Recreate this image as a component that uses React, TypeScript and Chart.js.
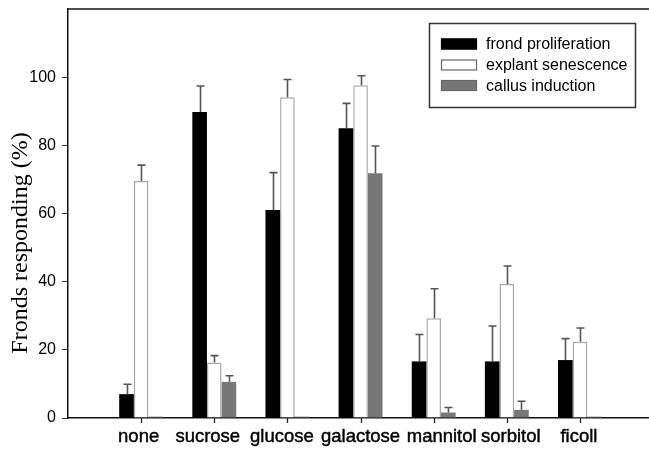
import React, { useEffect, useRef } from "react";
import { Chart, registerables } from "chart.js";

Chart.register(...registerables);

const categories = ["none", "sucrose", "glucose", "galactose", "mannitol", "sorbitol", "ficoll"];
const seriesNames = ["frond proliferation", "explant senescence", "callus induction"];
const frondValues = [7, 89.8, 61, 85, 16.6, 16.6, 17];
const frondErrors = [2.9, 7.6, 11, 7.3, 7.9, 10.4, 6.3];
const explantValues = [69.5, 16.3, 94.1, 97.6, 29.3, 39.3, 22.4];
const explantErrors = [4.7, 2, 5.2, 2.8, 8.6, 5.3, 4];
const callusValues = [0.4, 10.6, 0.4, 71.8, 1.6, 2.4, 0.4];
const callusErrors = [0, 1.8, 0, 8, 1.5, 2.5, 0];
const yTicks = [0, 20, 40, 60, 80, 100];
const yMax = 120;
// x axis: categories sit at positions 1..7; the frame is cropped on the right
const xMin = 0;
const xMax = 7.944;
const yTitle = "Fronds responding (%)";
// small horizontal nudges of the category labels (px), as typeset in the original
const labelNudge = [-2.5, -6.5, -5.5, 0, 8, 4, -1];

const errorsBySeries = [frondErrors, explantErrors, callusErrors];

const toPoints = (vals: number[]) => vals.map((v, i) => ({ x: i + 1, y: v }));

const errorBarPlugin = {
  id: "errorBars",
  afterDatasetsDraw(chart: any) {
    const ctx = chart.ctx;
    const yScale = chart.scales.y;
    ctx.save();
    ctx.strokeStyle = "#555";
    ctx.lineWidth = 1.6;
    chart.data.datasets.forEach((ds: any, i: number) => {
      const meta = chart.getDatasetMeta(i);
      const errs = errorsBySeries[i];
      meta.data.forEach((el: any, j: number) => {
        const v = ds.data[j].y;
        const e = errs[j];
        if (v == null || !e) return;
        const x = Math.round(el.x) + 0.5;
        const yTop = yScale.getPixelForValue(v + e);
        ctx.beginPath();
        ctx.moveTo(x, el.y);
        ctx.lineTo(x, yTop);
        ctx.moveTo(x - 4, yTop);
        ctx.lineTo(x + 4, yTop);
        ctx.stroke();
      });
    });
    ctx.restore();
  },
};

const framePlugin = {
  id: "frameAndLegend",
  afterDraw(chart: any) {
    const ctx = chart.ctx;
    const area = chart.chartArea;
    const xScale = chart.scales.x;
    ctx.save();
    ctx.strokeStyle = "#111";
    ctx.lineWidth = 1.5;
    ctx.beginPath();
    ctx.moveTo(area.left, area.top);
    ctx.lineTo(chart.width, area.top);
    ctx.stroke();

    // x tick marks and category labels
    ctx.strokeStyle = "#222";
    ctx.lineWidth = 1.3;
    ctx.beginPath();
    categories.forEach((_, i) => {
      const x = Math.round(xScale.getPixelForValue(i + 1)) + 0.5;
      ctx.moveTo(x, area.bottom);
      ctx.lineTo(x, area.bottom + 5);
    });
    ctx.stroke();
    ctx.font = "18.5px 'Liberation Sans', Arial, sans-serif";
    ctx.textAlign = "center";
    ctx.textBaseline = "alphabetic";
    ctx.fillStyle = "#000";
    ctx.strokeStyle = "#000";
    ctx.lineWidth = 0.45;
    categories.forEach((c, i) => {
      const x = xScale.getPixelForValue(i + 1) + labelNudge[i];
      ctx.fillText(c, x, area.bottom + 23.5);
      ctx.strokeText(c, x, area.bottom + 23.5);
    });

    // legend
    ctx.strokeStyle = "#333";
    ctx.lineWidth = 1.5;
    ctx.fillStyle = "#fff";
    ctx.fillRect(429.5, 23.5, 206, 84);
    ctx.strokeRect(429.5, 23.5, 206, 84);
    const rows = [44, 65, 85.5];
    chart.data.datasets.forEach((ds: any, i: number) => {
      const cy = rows[i];
      ctx.fillStyle = ds.backgroundColor;
      ctx.fillRect(441, cy - 5.5, 36, 11);
      ctx.strokeStyle = ds.legendBorder;
      ctx.lineWidth = 1.2;
      ctx.strokeRect(441.5, cy - 5, 35, 10);
      ctx.fillStyle = "#000";
      ctx.font = "16px 'Liberation Sans', Arial, sans-serif";
      ctx.textBaseline = "middle";
      ctx.textAlign = "left";
      ctx.fillText(ds.label, 486, cy + 1);
    });

    // y axis title
    ctx.translate(21, 243);
    ctx.rotate(-Math.PI / 2);
    ctx.fillStyle = "#000";
    ctx.font = "24px 'Liberation Serif', 'Times New Roman', serif";
    ctx.textAlign = "center";
    ctx.textBaseline = "middle";
    ctx.fillText(yTitle, 0, 0);
    ctx.restore();
  },
};

export default function App() {
  const ref = useRef<HTMLCanvasElement>(null);

  useEffect(() => {
    if (!ref.current) return;
    const chart = new Chart(ref.current, {
      type: "bar",
      data: {
        datasets: [
          {
            label: seriesNames[0],
            data: toPoints(frondValues),
            backgroundColor: "#000",
            borderColor: "#000",
            borderWidth: 0,
            legendBorder: "#000",
          } as any,
          {
            label: seriesNames[1],
            data: toPoints(explantValues),
            backgroundColor: "#fff",
            borderColor: "#a8a8a8",
            borderWidth: 1.5,
            legendBorder: "#666",
          } as any,
          {
            label: seriesNames[2],
            data: toPoints(callusValues),
            backgroundColor: "#777",
            borderColor: "#666",
            borderWidth: 0,
            legendBorder: "#666",
          } as any,
        ],
      },
      options: {
        responsive: false,
        animation: false,
        layout: { padding: { left: 0, right: 0, top: 9, bottom: 0 } },
        datasets: { bar: { categoryPercentage: 0.6, barPercentage: 1 } },
        plugins: {
          legend: { display: false },
          tooltip: { enabled: false },
          title: { display: false },
        },
        scales: {
          x: {
            type: "linear",
            min: xMin,
            max: xMax,
            offset: false,
            border: { display: true, color: "#111", width: 1.5 },
            grid: { display: false, drawOnChartArea: false, drawTicks: false },
            ticks: { display: false },
            afterBuildTicks(scale: any) {
              scale.ticks = categories.map((_, i) => ({ value: i + 1 }));
            },
            afterFit(scale: any) {
              scale.height = 31;
              scale.paddingLeft = 0;
              scale.paddingRight = 0;
            },
          },
          y: {
            min: 0,
            max: yMax,
            border: { display: true, color: "#111", width: 1.5 },
            grid: {
              display: true,
              drawOnChartArea: false,
              drawTicks: true,
              tickLength: 6,
              color: "#333",
              lineWidth: 1,
            },
            ticks: {
              stepSize: 20,
              padding: 6,
              color: "#000",
              font: { family: "'Liberation Sans', Arial, sans-serif", size: 16 },
            },
            afterBuildTicks(scale: any) {
              scale.ticks = yTicks.map((v) => ({ value: v }));
            },
            afterFit(scale: any) {
              scale.width = 68;
              scale.paddingTop = 0;
              scale.paddingBottom = 0;
            },
          },
        },
      },
      plugins: [errorBarPlugin, framePlugin],
    });
    return () => chart.destroy();
  }, []);

  return (
    <div style={{ position: "fixed", left: 0, top: 0, width: 649, height: 449, overflow: "hidden", background: "#fff" }}>
      <canvas ref={ref} width={649} height={449} style={{ display: "block", width: 649, height: 449 }} />
    </div>
  );
}
